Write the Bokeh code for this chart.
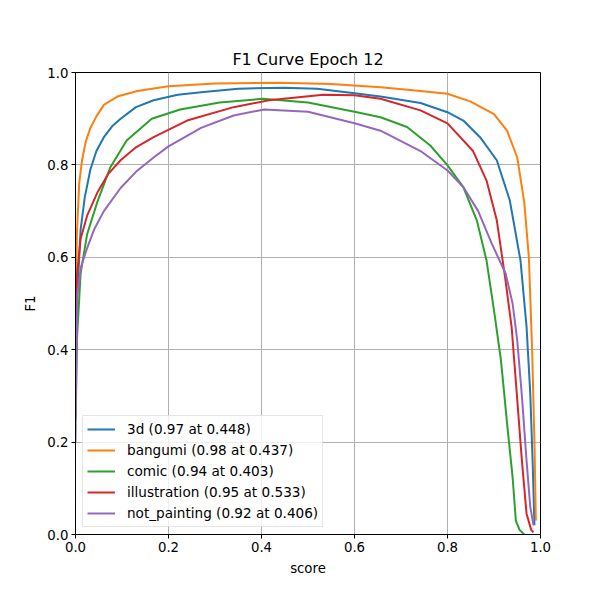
from bokeh.plotting import figure
from bokeh.models import FixedTicker, PrintfTickFormatter, Legend, LegendItem
from bokeh.embed import file_html
from bokeh.resources import INLINE

names = ["3d (0.97 at 0.448)", "bangumi (0.98 at 0.437)", "comic (0.94 at 0.403)",
         "illustration (0.95 at 0.533)", "not_painting (0.92 at 0.406)"]
colors = ["#1f77b4", "#ff7f0e", "#2ca02c", "#d62728", "#9467bd"]

x_3d = [0, 0.003, 0.011, 0.02, 0.032, 0.045, 0.061, 0.08, 0.097, 0.13, 0.168, 0.22, 0.27, 0.35, 0.448,
        0.52, 0.6, 0.656, 0.742, 0.8, 0.834, 0.87, 0.906, 0.934, 0.957, 0.97, 0.978, 0.983, 0.987]
y_3d = [0.30, 0.50, 0.66, 0.73, 0.79, 0.83, 0.86, 0.885, 0.90, 0.925, 0.94, 0.952, 0.957, 0.965, 0.967,
        0.965, 0.955, 0.948, 0.934, 0.914, 0.896, 0.86, 0.81, 0.723, 0.593, 0.45, 0.305, 0.16, 0.02]

x_bangumi = [0, 0.003, 0.008, 0.014, 0.022, 0.032, 0.045, 0.061, 0.09, 0.133, 0.2, 0.3, 0.437, 0.55,
             0.656, 0.72, 0.8, 0.85, 0.9, 0.928, 0.95, 0.965, 0.975, 0.982, 0.987, 0.99]
y_bangumi = [0.45, 0.65, 0.76, 0.81, 0.85, 0.88, 0.905, 0.93, 0.948, 0.96, 0.97, 0.976, 0.978, 0.975,
             0.968, 0.962, 0.954, 0.937, 0.91, 0.874, 0.816, 0.72, 0.6, 0.4, 0.2, 0.03]

x_comic = [0, 0.003, 0.011, 0.025, 0.047, 0.075, 0.11, 0.164, 0.225, 0.31, 0.403, 0.5, 0.6, 0.656,
           0.713, 0.763, 0.8, 0.834, 0.863, 0.884, 0.9, 0.915, 0.929, 0.94, 0.947, 0.955, 0.965]
y_comic = [0.25, 0.42, 0.565, 0.65, 0.72, 0.795, 0.853, 0.90, 0.92, 0.935, 0.943, 0.935, 0.915, 0.903,
           0.882, 0.842, 0.799, 0.752, 0.68, 0.593, 0.485, 0.377, 0.232, 0.124, 0.03, 0.01, 0.0]

x_illustration = [0, 0.003, 0.011, 0.025, 0.047, 0.07, 0.097, 0.13, 0.168, 0.24, 0.34, 0.416, 0.533,
                  0.6, 0.656, 0.742, 0.8, 0.855, 0.884, 0.906, 0.924, 0.938, 0.949, 0.96, 0.97, 0.98, 0.985]
y_illustration = [0.35, 0.56, 0.64, 0.69, 0.74, 0.78, 0.81, 0.838, 0.86, 0.896, 0.925, 0.94, 0.952,
                  0.951, 0.943, 0.918, 0.89, 0.83, 0.766, 0.68, 0.556, 0.448, 0.305, 0.16, 0.045, 0.01, 0.005]

x_not_painting = [0, 0.004, 0.012, 0.025, 0.04, 0.061, 0.097, 0.13, 0.168, 0.2, 0.27, 0.34, 0.406, 0.5,
                  0.6, 0.656, 0.742, 0.8, 0.834, 0.866, 0.895, 0.925, 0.94, 0.95, 0.96, 0.97, 0.978, 0.985]
y_not_painting = [0.2, 0.52, 0.58, 0.62, 0.66, 0.70, 0.75, 0.785, 0.816, 0.84, 0.88, 0.907, 0.92, 0.915,
                  0.89, 0.874, 0.83, 0.788, 0.752, 0.70, 0.63, 0.565, 0.50, 0.42, 0.30, 0.16, 0.06, 0.02]

xs = [x_3d, x_bangumi, x_comic, x_illustration, x_not_painting]
ys = [y_3d, y_bangumi, y_comic, y_illustration, y_not_painting]
ticks = [0.0, 0.2, 0.4, 0.6, 0.8, 1.0]

FONT = "DejaVu Sans"

p = figure(width=584, height=584, frame_width=465, frame_height=462,
           x_range=(0, 1), y_range=(0, 1), output_backend="svg", toolbar_location=None,
           title="F1 Curve Epoch 12", min_border_left=75, min_border_right=44,
           min_border_top=72, min_border_bottom=50)
p.title.align = "center"
p.title.text_font = FONT
p.title.text_font_size = "16px"
p.title.text_font_style = "normal"
p.title.text_color = "black"
p.title.standoff = 7

for ax in (p.xaxis[0], p.yaxis[0]):
    ax.ticker = FixedTicker(ticks=ticks)
    ax.formatter = PrintfTickFormatter(format="%.1f")
    ax.major_label_text_font = FONT
    ax.major_label_text_font_size = "13.3px"
    ax.major_label_text_color = "black"
    ax.axis_label_text_font = FONT
    ax.axis_label_text_font_size = "13.3px"
    ax.axis_label_text_font_style = "normal"
    ax.axis_label_text_color = "black"
    ax.minor_tick_line_color = None
    ax.major_tick_out = 4
    ax.major_tick_in = 0
    ax.axis_line_color = "black"
    ax.major_tick_line_color = "black"
    ax.major_label_standoff = 3

p.xaxis.axis_label = "score"
p.yaxis.axis_label = "F1"
p.xaxis.axis_label_standoff = 6
p.yaxis.axis_label_standoff = 6

p.outline_line_color = "black"
p.outline_line_alpha = 1
p.grid.grid_line_color = "#b0b0b0"
p.grid.grid_line_width = 1
p.background_fill_color = "white"
p.border_fill_color = "white"

items = []
for x, y, c, n in zip(xs, ys, colors, names):
    r = p.line(x, y, line_color=c, line_width=2)
    items.append(LegendItem(label=n, renderers=[r]))

legend = Legend(items=items, location="bottom_left")
legend.label_text_font = FONT
legend.label_text_font_size = "13.6px"
legend.label_text_color = "black"
legend.glyph_width = 28
legend.glyph_height = 18
legend.label_height = 18
legend.spacing = 3
legend.label_standoff = 12
legend.padding = 4
legend.margin = 7
legend.border_line_color = "#cccccc"
legend.background_fill_alpha = 0.8
p.add_layout(legend)

open("out.html", "w").write(file_html(p, INLINE))
